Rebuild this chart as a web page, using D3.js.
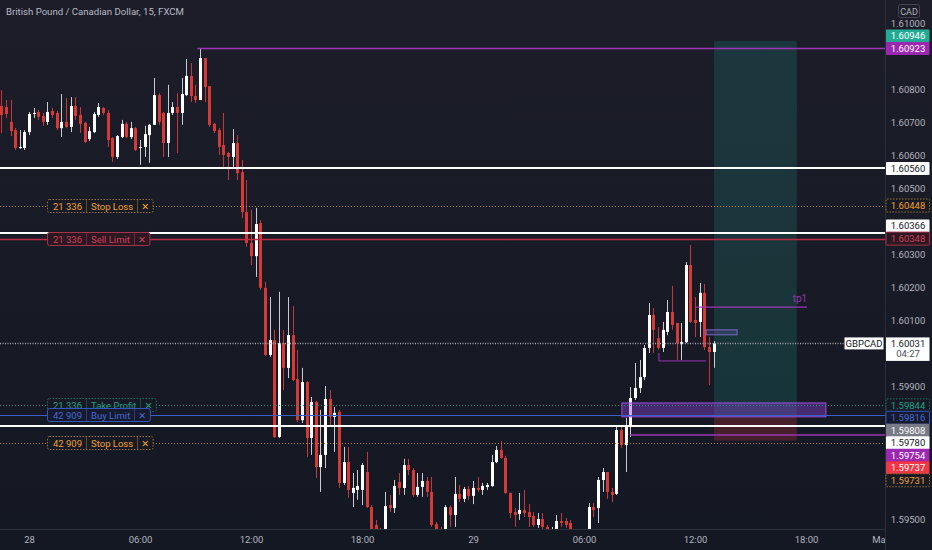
<!DOCTYPE html>
<html><head><meta charset="utf-8">
<script src="https://cdn.jsdelivr.net/npm/d3@7/dist/d3.min.js"></script>
<style>
html,body{margin:0;padding:0;background:#161a25;overflow:hidden}
svg{display:block}
text{font-family:Roboto,"Noto Sans","DejaVu Sans",sans-serif}
</style></head><body>
<svg id="chart" width="932" height="550"></svg>
<script>
// ---- DATA (GBPCAD 15m, index 0 = first visible candle) ----
const opens=[1.60749,1.60746,1.60701,1.60676,1.60622,1.60622,1.60670,1.60725,1.60731,1.60719,
1.60701,1.60734,1.60728,1.60682,1.60701,1.60686,1.60749,1.60722,1.60698,1.60649,
1.60670,1.60722,1.60743,1.60728,1.60652,1.60595,1.60655,1.60695,1.60655,1.60682,
1.60622,1.60625,1.60661,1.60692,1.60782,1.60728,1.60637,1.60728,1.60746,1.60728,
1.60782,1.60840,1.60779,1.60767,1.60894,1.60809,1.60695,1.60676,1.60631,1.60607,
1.60595,1.60637,1.60549,1.60428,1.60335,1.60295,1.60395,1.60199,1.59996,1.60041,
1.59748,1.60032,1.59957,1.60056,1.59923,1.59799,1.59914,1.59745,1.59854,1.59657,
1.59694,1.59863,1.59809,1.59824,1.59609,1.59672,1.59579,1.59588,1.59588,1.59642,
1.59536,1.59482,1.59461,1.59467,1.59542,1.59533,1.59612,1.59594,1.59663,1.59648,
1.59573,1.59597,1.59615,1.59582,1.59485,1.59467,1.59467,1.59536,1.59512,1.59576,
1.59561,1.59591,1.59570,1.59594,1.59588,1.59597,1.59600,1.59672,1.59709,1.59685,
1.59579,1.59521,1.59515,1.59527,1.59521,1.59509,1.59482,1.59500,1.59476,1.59452,
1.59467,1.59494,1.59494,1.59488,1.59461,1.59443,1.59458,1.59461,1.59536,1.59533,
1.59618,1.59642,1.59582,1.59576,1.59769,1.59724,1.59778,1.59866,1.59896,1.59929,
1.60017,1.60117,1.60047,1.60017,1.60066,1.60126,1.60093,1.60029,1.60035,1.60268,
1.60102,1.60096,1.60184,1.60020,1.60005];
const highs=[1.60797,1.60767,1.60767,1.60682,1.60676,1.60676,1.60731,1.60743,1.60737,1.60728,
1.60761,1.60743,1.60734,1.60785,1.60773,1.60776,1.60776,1.60746,1.60701,1.60686,
1.60731,1.60758,1.60746,1.60737,1.60655,1.60661,1.60707,1.60701,1.60701,1.60686,
1.60646,1.60689,1.60695,1.60834,1.60788,1.60731,1.60813,1.60761,1.60788,1.60834,
1.60891,1.60879,1.60813,1.60923,1.60894,1.60809,1.60698,1.60682,1.60728,1.60610,
1.60679,1.60661,1.60586,1.60525,1.60435,1.60441,1.60404,1.60217,1.60171,1.60072,
1.60187,1.60072,1.60171,1.60144,1.60011,1.59957,1.59917,1.59869,1.59857,1.59830,
1.59902,1.59890,1.59839,1.59830,1.59718,1.59718,1.59639,1.59648,1.59669,1.59703,
1.59542,1.59497,1.59473,1.59582,1.59573,1.59618,1.59639,1.59682,1.59682,1.59654,
1.59639,1.59639,1.59627,1.59627,1.59491,1.59476,1.59542,1.59542,1.59627,1.59603,
1.59597,1.59600,1.59615,1.59627,1.59609,1.59609,1.59694,1.59721,1.59736,1.59691,
1.59579,1.59533,1.59579,1.59588,1.59545,1.59521,1.59518,1.59518,1.59482,1.59476,
1.59512,1.59518,1.59503,1.59497,1.59467,1.59464,1.59464,1.59548,1.59548,1.59627,
1.59654,1.59642,1.59594,1.59778,1.59784,1.59806,1.59899,1.59972,1.59981,1.60026,
1.60153,1.60138,1.60081,1.60096,1.60162,1.60205,1.60093,1.60093,1.60277,1.60329,
1.60171,1.60214,1.60211,1.60050,1.60038];
const lows=[1.60667,1.60713,1.60658,1.60616,1.60619,1.60616,1.60661,1.60713,1.60707,1.60689,
1.60692,1.60713,1.60676,1.60655,1.60682,1.60670,1.60707,1.60667,1.60637,1.60643,
1.60667,1.60716,1.60722,1.60625,1.60580,1.60589,1.60652,1.60652,1.60649,1.60613,
1.60571,1.60595,1.60577,1.60692,1.60692,1.60595,1.60595,1.60722,1.60607,1.60692,
1.60779,1.60761,1.60758,1.60767,1.60761,1.60686,1.60667,1.60601,1.60562,1.60525,
1.60565,1.60525,1.60410,1.60323,1.60268,1.60232,1.60193,1.59993,1.59990,1.59745,
1.59745,1.59890,1.59926,1.59917,1.59793,1.59790,1.59688,1.59694,1.59624,1.59582,
1.59654,1.59784,1.59703,1.59594,1.59603,1.59564,1.59536,1.59558,1.59542,1.59533,
1.59452,1.59437,1.59421,1.59452,1.59521,1.59518,1.59573,1.59573,1.59633,1.59567,
1.59567,1.59567,1.59567,1.59476,1.59452,1.59437,1.59461,1.59476,1.59476,1.59551,
1.59551,1.59558,1.59545,1.59582,1.59573,1.59588,1.59597,1.59669,1.59682,1.59576,
1.59503,1.59476,1.59497,1.59506,1.59476,1.59476,1.59473,1.59470,1.59437,1.59437,
1.59461,1.59476,1.59473,1.59437,1.59421,1.59421,1.59421,1.59452,1.59506,1.59488,
1.59582,1.59561,1.59551,1.59573,1.59715,1.59642,1.59748,1.59860,1.59881,1.59920,
1.60002,1.60002,1.60011,1.60005,1.60056,1.60072,1.59981,1.59981,1.60032,1.60093,
1.60050,1.60050,1.60011,1.59905,1.59957];
const closes=[1.60722,1.60725,1.60673,1.60622,1.60625,1.60670,1.60725,1.60728,1.60716,1.60701,
1.60731,1.60722,1.60682,1.60701,1.60686,1.60749,1.60719,1.60695,1.60640,1.60673,
1.60725,1.60746,1.60728,1.60646,1.60595,1.60658,1.60695,1.60655,1.60682,1.60616,
1.60625,1.60664,1.60692,1.60782,1.60701,1.60637,1.60728,1.60746,1.60728,1.60785,
1.60840,1.60779,1.60767,1.60894,1.60806,1.60692,1.60673,1.60625,1.60601,1.60595,
1.60637,1.60546,1.60428,1.60335,1.60295,1.60392,1.60199,1.59996,1.60041,1.59748,
1.60032,1.59957,1.60056,1.59920,1.59799,1.59914,1.59745,1.59854,1.59657,1.59694,
1.59863,1.59809,1.59821,1.59609,1.59672,1.59588,1.59594,1.59600,1.59663,1.59536,
1.59467,1.59461,1.59437,1.59539,1.59533,1.59600,1.59594,1.59663,1.59648,1.59573,
1.59597,1.59615,1.59582,1.59482,1.59467,1.59452,1.59536,1.59512,1.59576,1.59561,
1.59591,1.59570,1.59594,1.59588,1.59600,1.59603,1.59672,1.59709,1.59685,1.59579,
1.59518,1.59512,1.59527,1.59518,1.59506,1.59482,1.59500,1.59476,1.59461,1.59467,
1.59494,1.59488,1.59482,1.59461,1.59452,1.59458,1.59446,1.59536,1.59527,1.59618,
1.59642,1.59582,1.59573,1.59769,1.59724,1.59778,1.59866,1.59896,1.59929,1.60017,
1.60117,1.60072,1.60017,1.60072,1.60126,1.60087,1.60032,1.60035,1.60268,1.60096,
1.60093,1.60184,1.60020,1.60005,1.60031];

const timeTickIdx=[6,30,54,78,102,126,150,174,190];
const timeTickLabels=["28","06:00","12:00","18:00","29","06:00","12:00","18:00","Mar"];
const priceTicks=[1.595,1.596,1.597,1.598,1.599,1.600,1.601,1.602,1.603,1.604,1.605,1.606,1.607,1.608,1.609,1.610];

const lastPrice=1.60031;
const symbol="GBPCAD";
const countdown="04:27";
const title="British Pound / Canadian Dollar, 15, FXCM";

// horizontal levels across the whole chart
const levelPrices=[1.60560,1.60448,1.60366,1.60348,1.59844,1.59816,1.59780,1.59731];
const levelKinds=["white","stop","white","sell","tp","buy","white","stop"];

// order tickets
const orderQty=["21 336","21 336","21 336","42 909","42 909"];
const orderName=["Stop Loss","Sell Limit","Take Profit","Buy Limit","Stop Loss"];
const orderPrice=[1.60448,1.60348,1.59844,1.59816,1.59731];
const orderKind=["stop","sell","tp","buy","stop"];

// long position tool
const posStart=154.1, posEnd=172, posEntry=1.59808, posTarget=1.60946, posStop=1.59737;

// user drawings (purple)
const rayStartIdx=[42.4,136];
const rayPrices=[1.60923,1.59754];
const tp1Start=150.2, tp1End=174.2, tp1Price=1.60141;
const boxStart=[134.2,152.4], boxEnd=[178.3,159.1], boxTop=[1.59851,1.60072], boxBottom=[1.59809,1.60057];
const bracketIdx=[142.2,142.2,152.4], bracketPrice=[1.60002,1.59978,1.59978];

// right-axis price labels
const axisLabelPrices=[1.60946,1.60923,1.60560,1.60448,1.60366,1.60348,1.59844,1.59816,1.59808,1.59780,1.59754,1.59737,1.59731];
const axisLabelKinds=["target","purple","white","stop","white","sell","tp","buy","entry","white","purple","stopzone","stop"];
const axisLabelPinned=[false,true,false,false,false,true,true,false,false,false,false,false,false];

// ---- STYLES ----
const kindStyle={
  white:{line:"#ffffff",w:2,dash:null,bg:"#ffffff",fg:"#131722",border:null},
  stop:{line:"#b8822a",w:1,dash:"1,2",bg:"#171a24",fg:"#f0a12c",border:"#9a7426",bdash:"1.5,1.5"},
  sell:{line:"#b92c49",w:1.6,dash:null,bg:"#2a1822",fg:"#d33d5a",border:"#a8304a",bdash:null},
  tp:{line:"#1f8c77",w:1,dash:"1,2",bg:"#171a24",fg:"#1fa088",border:"#1b6e60",bdash:"1.5,1.5"},
  buy:{line:"#3a5fcc",w:1,dash:null,bg:"#171a2a",fg:"#4468da",border:"#3556c4",bdash:null},
  purple:{bg:"#9c27b0",fg:"#ffffff"},
  target:{bg:"#22ab94",fg:"#ffffff"},
  entry:{bg:"#787b86",fg:"#ffffff"},
  stopzone:{bg:"#f23645",fg:"#ffffff"}
};
const UP="#ffffff", UPW="#c9cbd1", DN="#d63a36", DNW="#c4373a";
const PURPLE="#9c36b6";

// ---- CHART ----
const W=932,H=550,PR=885,PB=529;
const svg=d3.select("#chart");
const defs=svg.append("defs");
const g=defs.append("linearGradient").attr("id","bg").attr("x1",0).attr("y1",0).attr("x2",0).attr("y2",1);
g.append("stop").attr("offset","0%").attr("stop-color","#1c1d29");
g.append("stop").attr("offset","100%").attr("stop-color","#141823");
svg.append("rect").attr("width",W).attr("height",H).attr("fill","url(#bg)");
defs.append("clipPath").attr("id","plot").append("rect").attr("x",0).attr("y",0).attr("width",PR).attr("height",PB);

const x=d3.scaleLinear().domain([0,154]).range([1.25,713.5]);
const y=d3.scaleLinear().domain([1.595,1.61]).range([519,23]);

const plot=svg.append("g").attr("clip-path","url(#plot)");

// position tool
plot.append("rect").attr("x",x(posStart)).attr("width",x(posEnd)-x(posStart))
  .attr("y",y(posTarget)).attr("height",y(posEntry)-y(posTarget)).attr("fill","rgba(34,171,148,0.19)");
plot.append("rect").attr("x",x(posStart)).attr("width",x(posEnd)-x(posStart))
  .attr("y",y(posEntry)).attr("height",y(posStop)-y(posEntry)).attr("fill","rgba(242,54,69,0.22)");

// candles
const idx=d3.range(opens.length);
const cg=plot.append("g");
cg.selectAll("line.w").data(idx).join("line").attr("class","w")
  .attr("x1",i=>Math.round(x(i))+0.5).attr("x2",i=>Math.round(x(i))+0.5)
  .attr("y1",i=>y(highs[i])).attr("y2",i=>y(lows[i]))
  .attr("stroke",i=>closes[i]>=opens[i]?UPW:DNW).attr("stroke-width",1);
cg.selectAll("rect.b").data(idx).join("rect").attr("class","b")
  .attr("x",i=>Math.round(x(i))-1).attr("width",3)
  .attr("y",i=>y(Math.max(opens[i],closes[i])))
  .attr("height",i=>Math.max(1,y(Math.min(opens[i],closes[i]))-y(Math.max(opens[i],closes[i]))))
  .attr("fill",i=>closes[i]>=opens[i]?UP:DN);

// purple drawings
boxStart.forEach((s,k)=>{
  plot.append("rect").attr("x",x(s)).attr("width",x(boxEnd[k])-x(s))
   .attr("y",y(boxTop[k])).attr("height",y(boxBottom[k])-y(boxTop[k]))
   .attr("fill",k===0?"rgba(140,64,214,0.42)":"rgba(110,90,190,0.25)")
   .attr("stroke",k===0?"#9a4fe0":"#7a68c4").attr("stroke-width",1);
});
rayStartIdx.forEach((s,k)=>{
  plot.append("line").attr("x1",x(s)).attr("x2",PR).attr("y1",y(rayPrices[k])).attr("y2",y(rayPrices[k]))
   .attr("stroke",PURPLE).attr("stroke-width",1.6);
});
plot.append("line").attr("x1",x(tp1Start)).attr("x2",x(tp1End)).attr("y1",y(tp1Price)).attr("y2",y(tp1Price))
  .attr("stroke",PURPLE).attr("stroke-width",1.2);
plot.append("text").attr("x",x(tp1End)-7).attr("y",y(tp1Price)-5).attr("text-anchor","middle")
  .attr("font-size",10).attr("fill","#8e3aa8").text("tp1");
plot.append("path").attr("d",d3.line()(bracketIdx.map((v,k)=>[x(v),y(bracketPrice[k])])))
  .attr("fill","none").attr("stroke",PURPLE).attr("stroke-width",1);

// horizontal levels
levelPrices.forEach((p,k)=>{
  const s=kindStyle[levelKinds[k]];
  const yy=Math.round(y(p))+(s.w%2?0.5:0);
  plot.append("line").attr("x1",0).attr("x2",PR).attr("y1",yy).attr("y2",yy)
   .attr("stroke",s.line).attr("stroke-width",s.w).attr("stroke-dasharray",s.dash);
});
// last price line
const ly=Math.round(y(lastPrice))+0.5;
plot.append("line").attr("x1",0).attr("x2",PR).attr("y1",ly).attr("y2",ly)
  .attr("stroke","#a3a6ae").attr("stroke-width",1.3).attr("stroke-dasharray","1,1.5");

// order tickets
orderPrice.forEach((p,k)=>{
  const s=kindStyle[orderKind[k]];
  const cy=Math.round(y(p));
  const gg=svg.append("g");
  const box=gg.append("rect").attr("x",47.5).attr("y",cy-6.5).attr("height",13).attr("rx",2)
    .attr("fill",s.bg).attr("stroke",s.border).attr("stroke-width",1).attr("stroke-dasharray",s.bdash);
  const t1=gg.append("text").attr("x",53).attr("y",cy+3.5).attr("font-size",9.5).attr("fill",s.fg).text(orderQty[k]);
  const d1=53+t1.node().getComputedTextLength()+4;
  const t2=gg.append("text").attr("x",d1+5).attr("y",cy+3.5).attr("font-size",9.5).attr("fill",s.fg).text(orderName[k]);
  const d2=d1+5+t2.node().getComputedTextLength()+4;
  gg.append("text").attr("x",d2+8).attr("y",cy+3.5).attr("text-anchor","middle").attr("font-size",9.5)
    .attr("fill",s.fg).text("\u2715");
  [d1,d2].forEach(d=>gg.append("line").attr("x1",Math.round(d)+0.5).attr("x2",Math.round(d)+0.5)
    .attr("y1",cy-6).attr("y2",cy+6).attr("stroke",s.border).attr("stroke-opacity",0.6));
  box.attr("width",d2+16-47.5);
});

// title
svg.append("text").attr("x",6).attr("y",15).attr("font-size",9.6).attr("fill","#b8bbc4").text(title);

// axes frame
svg.append("line").attr("x1",PR+0.5).attr("x2",PR+0.5).attr("y1",0).attr("y2",H).attr("stroke","#2a2e39");
svg.append("line").attr("x1",0).attr("x2",PR).attr("y1",PB+0.5).attr("y2",PB+0.5).attr("stroke","#2a2e39");

// right price labels with collision layout (computed first so covered ticks can be skipped)
const GAP=12.5;
const labs=axisLabelPrices.map((p,k)=>({p,kind:axisLabelKinds[k],pin:axisLabelPinned[k],ly:y(p)}))
  .sort((a,b)=>a.ly-b.ly);
for(let i=1;i<labs.length;i++) if(!labs[i].pin) labs[i].ly=Math.max(labs[i].ly,labs[i-1].ly+GAP);
for(let i=labs.length-2;i>=0;i--) if(!labs[i].pin) labs[i].ly=Math.min(labs[i].ly,labs[i+1].ly-GAP);
const lcy=y(lastPrice);
const occupied=labs.map(l=>[l.ly-6.5,l.ly+6.5]).concat([[lcy-6,lcy+17.5]]);
const visibleTicks=priceTicks.filter(t=>{const ty=y(t);return !occupied.some(o=>ty+5>o[0]&&ty-5<o[1]);});

// price axis ticks
const yAxis=d3.axisRight(y).tickValues(visibleTicks).tickFormat(d3.format(".5f")).tickSize(0).tickPadding(0);
const ya=svg.append("g").attr("transform",`translate(${PR},0)`).call(yAxis);
ya.select(".domain").remove();
ya.selectAll("text").attr("x",23).attr("text-anchor","middle").attr("fill","#b2b5be")
  .attr("font-size",9.5).style("font-family","Roboto,'Noto Sans',sans-serif");

// time axis
const xAxis=d3.axisBottom(x).tickValues(timeTickIdx).tickFormat((d,i)=>timeTickLabels[i]).tickSize(0).tickPadding(0);
defs.append("clipPath").attr("id","tclip").append("rect").attr("x",0).attr("y",PB).attr("width",PR).attr("height",H-PB);
const xa=svg.append("g").attr("clip-path","url(#tclip)").append("g").attr("transform",`translate(0,${PB})`).call(xAxis);
xa.select(".domain").remove();
xa.selectAll("text").attr("y",7).attr("fill","#b2b5be").attr("font-size",9.5)
  .style("font-family","Roboto,'Noto Sans',sans-serif");

// CAD box
svg.append("rect").attr("x",898.5).attr("y",4.5).attr("width",21).attr("height",13).attr("rx",2)
  .attr("fill","none").attr("stroke","#434651");
svg.append("text").attr("x",909).attr("y",14.5).attr("text-anchor","middle").attr("font-size",9)
  .attr("fill","#b2b5be").text("CAD");

labs.forEach(l=>{
  const s=kindStyle[l.kind];
  const cy=l.ly;
  svg.append("rect").attr("x",886).attr("y",cy-6.5).attr("width",43.5).attr("height",13)
    .attr("fill",s.bg).attr("stroke",s.border||"none").attr("stroke-dasharray",s.bdash||null).attr("rx",1);
  svg.append("text").attr("x",908).attr("y",cy+3.4).attr("text-anchor","middle").attr("font-size",9.5)
    .attr("fill",s.fg).text(d3.format(".5f")(l.p));
});

// last price label + symbol label
svg.append("rect").attr("x",886).attr("y",lcy-6).attr("width",43.5).attr("height",23.5).attr("fill","#ffffff");
svg.append("text").attr("x",908).attr("y",lcy+3.4).attr("text-anchor","middle").attr("font-size",9.5)
  .attr("fill","#131722").text(d3.format(".5f")(lastPrice));
svg.append("text").attr("x",908).attr("y",lcy+13.2).attr("text-anchor","middle").attr("font-size",9.5)
  .attr("fill","#4a4d57").text(countdown);
svg.append("rect").attr("x",844.5).attr("y",lcy-6).attr("width",39).attr("height",12).attr("fill","#ffffff");
svg.append("text").attr("x",864).attr("y",lcy+3.4).attr("text-anchor","middle").attr("font-size",9.5)
  .attr("fill","#131722").text(symbol);
</script>
</body></html>
